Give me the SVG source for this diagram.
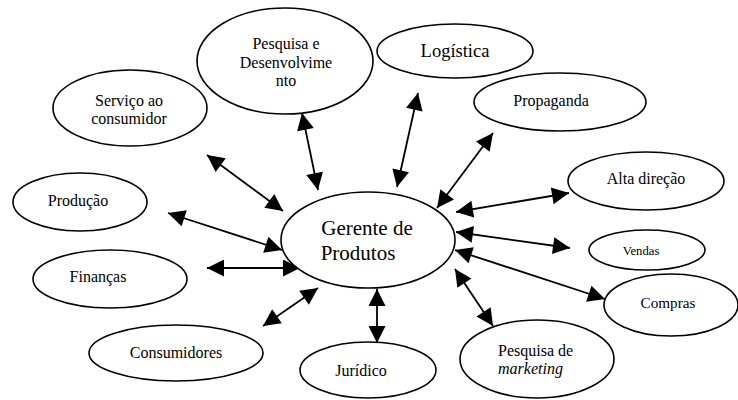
<svg xmlns="http://www.w3.org/2000/svg" width="738" height="400" viewBox="0 0 738 400">
  <defs>
    <style>
      .node ellipse { fill: #ffffff; stroke: #000000; stroke-width: 1.6; }
      .node text { font-family: "Liberation Serif", "Times New Roman", serif; font-size: 16px; fill: #000000; text-anchor: middle; dominant-baseline: central; }
      .edges line { stroke: #000000; stroke-width: 1.8; marker-start: url(#head); marker-end: url(#head); }
    </style>
    <marker id="head" viewBox="0 0 10 10" refX="10" refY="5" markerUnits="userSpaceOnUse" markerWidth="19" markerHeight="17" orient="auto-start-reverse">
      <path d="M0,0 L10,5 L0,10 z" fill="#000000"/>
    </marker>
  </defs>
  <rect width="738" height="400" fill="#ffffff"/>

  <!-- double-headed connectors to the central node -->
  <g id="edges" class="edges">
    <line x1="207" y1="155" x2="283" y2="211"/>
    <line x1="302" y1="113" x2="318" y2="190"/>
    <line x1="418" y1="93" x2="397" y2="187"/>
    <line x1="493" y1="133" x2="437" y2="208"/>
    <line x1="569" y1="193" x2="456" y2="212"/>
    <line x1="570" y1="248" x2="456" y2="232"/>
    <line x1="605" y1="299" x2="455" y2="250"/>
    <line x1="493" y1="326" x2="455" y2="269"/>
    <line x1="377" y1="343" x2="377" y2="289"/>
    <line x1="263" y1="326" x2="318" y2="288"/>
    <line x1="207" y1="268" x2="300" y2="268"/>
    <line x1="168" y1="213" x2="282" y2="250"/>
  </g>

  <g id="gerente" class="node">
    <ellipse cx="368" cy="240" rx="87" ry="48"/>
    <text x="367" y="228" style="font-size:21px">Gerente de</text>
    <text x="358" y="253" style="font-size:21px">Produtos</text>
  </g>

  <g id="pesquisa-desenvolvimento" class="node">
    <ellipse cx="285" cy="61" rx="88" ry="53"/>
    <text x="286" y="43">Pesquisa e</text>
    <text x="286" y="62">Desenvolvime</text>
    <text x="286" y="80">nto</text>
  </g>

  <g id="servico" class="node">
    <ellipse cx="130" cy="108" rx="77" ry="38"/>
    <text x="129" y="100">Serviço ao</text>
    <text x="129" y="118">consumidor</text>
  </g>

  <g id="logistica" class="node">
    <ellipse cx="455" cy="51" rx="78" ry="27"/>
    <text x="455" y="51" style="font-size:18.5px">Logística</text>
  </g>

  <g id="propaganda" class="node">
    <ellipse cx="560" cy="102" rx="86" ry="29"/>
    <text x="551" y="100">Propaganda</text>
  </g>

  <g id="alta-direcao" class="node">
    <ellipse cx="646" cy="181" rx="78" ry="29"/>
    <text x="646" y="178">Alta direção</text>
  </g>

  <g id="vendas" class="node">
    <ellipse cx="647" cy="250" rx="58" ry="20"/>
    <text x="641" y="251" style="font-size:12.7px">Vendas</text>
  </g>

  <g id="compras" class="node">
    <ellipse cx="671" cy="305" rx="67" ry="31"/>
    <text x="668" y="302" style="font-size:15.2px">Compras</text>
  </g>

  <g id="pesquisa-marketing" class="node">
    <ellipse cx="537" cy="359" rx="77" ry="39"/>
    <text x="498" y="350" style="text-anchor:start">Pesquisa de</text>
    <text x="498" y="368" style="text-anchor:start;font-style:italic">marketing</text>
  </g>

  <g id="juridico" class="node">
    <ellipse cx="368" cy="370" rx="68" ry="28"/>
    <text x="361" y="370">Jurídico</text>
  </g>

  <g id="consumidores" class="node">
    <ellipse cx="176" cy="353" rx="87" ry="28"/>
    <text x="176" y="352">Consumidores</text>
  </g>

  <g id="financas" class="node">
    <ellipse cx="110" cy="279" rx="77" ry="29"/>
    <text x="98" y="276">Finanças</text>
  </g>

  <g id="producao" class="node">
    <ellipse cx="80" cy="202" rx="67" ry="29"/>
    <text x="78" y="200">Produção</text>
  </g>
</svg>
